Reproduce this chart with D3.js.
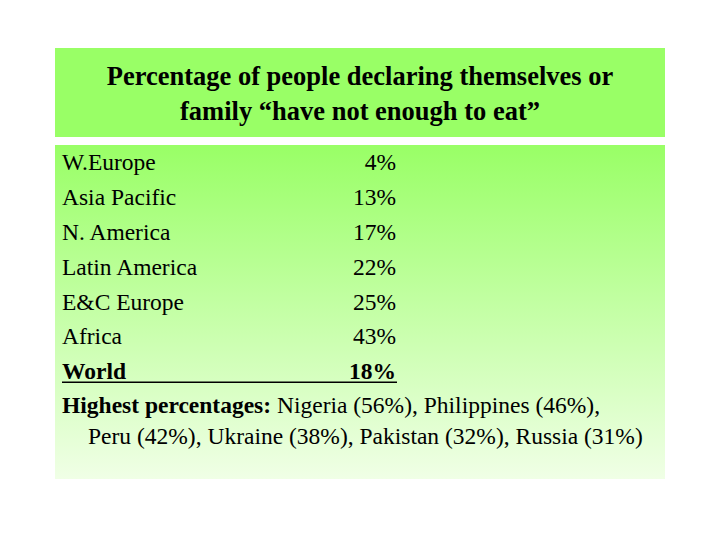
<!DOCTYPE html>
<html><head><meta charset="utf-8">
<script src="https://cdn.jsdelivr.net/npm/d3@7/dist/d3.min.js"></script>
<style>body{margin:0;background:#fff}</style>
</head><body>
<script>
// table data
var regions = ["W.Europe", "Asia Pacific", "N. America", "Latin America", "E&C Europe", "Africa", "World"];
var shares = [4, 13, 17, 22, 25, 43, 18];
var titleLines = ["Percentage of people declaring themselves or", "family \u201chave not enough to eat\u201d"];
var highestLabel = "Highest percentages:";
var highestLines = [" Nigeria (56%), Philippines (46%),", "Peru (42%), Ukraine (38%), Pakistan (32%), Russia (31%)"];

var svg = d3.select("body").append("svg").attr("width", 720).attr("height", 540);
var font = "'Liberation Serif', 'Times New Roman', serif";

var defs = svg.append("defs");
var grad = defs.append("linearGradient").attr("id", "bg").attr("x1", 0).attr("y1", 0).attr("x2", 0).attr("y2", 1);
grad.append("stop").attr("offset", "0%").attr("stop-color", "#99ff66");
grad.append("stop").attr("offset", "100%").attr("stop-color", "#f0ffe6");

svg.append("rect").attr("x", 55).attr("y", 48).attr("width", 610).attr("height", 89).attr("fill", "#99ff66");
svg.append("rect").attr("x", 55).attr("y", 145).attr("width", 610).attr("height", 334).attr("fill", "url(#bg)");

svg.selectAll("text.title").data(titleLines).join("text")
  .attr("x", 360).attr("y", (d, i) => 85 + i * 35)
  .attr("text-anchor", "middle").attr("font-family", font)
  .attr("font-size", 26.5).attr("font-weight", "bold").text(d => d);

// row positions
var yScale = d3.scaleBand().domain(regions).range([144, 388]);

var rows = svg.selectAll("g.row").data(regions).join("g")
  .attr("transform", d => `translate(0,${yScale(d) + yScale.bandwidth() * 0.75})`);

rows.append("text").attr("x", 62).attr("font-family", font).attr("font-size", 23.5)
  .attr("font-weight", d => d == "World" ? "bold" : "normal").text(d => d);
rows.append("text").attr("x", 396).attr("text-anchor", "end").attr("font-family", font).attr("font-size", 23.5)
  .attr("font-weight", d => d == "World" ? "bold" : "normal")
  .text((d, i) => shares[i] + "%");

var wy = yScale("World") + yScale.bandwidth() * 0.75 + 3;
svg.append("line").attr("x1", 62).attr("x2", 397).attr("y1", wy).attr("y2", wy).attr("stroke", "#000").attr("stroke-width", 1.5);

var h = svg.append("text").attr("x", 62).attr("y", 413).attr("font-family", font).attr("font-size", 23.5);
h.append("tspan").attr("font-weight", "bold").text(highestLabel);
h.append("tspan").text(highestLines[0]);
svg.append("text").attr("x", 88).attr("y", 444).attr("font-family", font).attr("font-size", 23.5).text(highestLines[1]);
</script>
</body></html>
